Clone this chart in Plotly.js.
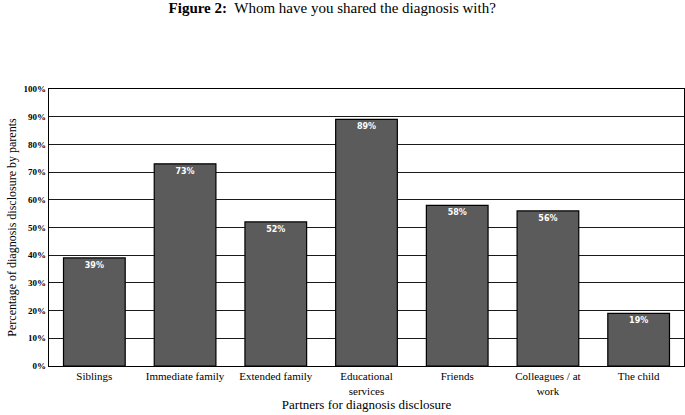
<!DOCTYPE html>
<html>
<head>
<meta charset="utf-8">
<script src="https://cdn.plot.ly/plotly-3.0.1.min.js"></script>
<style>
  html, body { margin: 0; padding: 0; background: #fff; }
  #chart { width: 685px; height: 415px; }
</style>
</head>
<body>
<div id="chart"></div>
<script>
const partners = ["Siblings", "Immediate family", "Extended family", "Educational<br>services", "Friends", "Colleagues / at<br>work", "The child"];
const shared = [39, 73, 52, 89, 58, 56, 19];
const yTicks = [0, 10, 20, 30, 40, 50, 60, 70, 80, 90, 100];
const yTickText = ["0%", "10%", "20%", "30%", "40%", "50%", "60%", "70%", "80%", "90%", "100%"];

const serif = "Liberation Serif, Times New Roman, serif";

const trace = {
	type: "bar",
	x: partners,
	y: shared,
	text: shared.map(v => v + "%"),
	textposition: "inside",
	insidetextanchor: "end",
	textangle: 0,
	textfont: { family: "DejaVu Sans, sans-serif", size: 8, color: "#ffffff", weight: "bold" },
	marker: { color: "#5b5b5b", line: { color: "#000000", width: 1.2 } },
	width: 0.68,
	hoverinfo: "none",
	cliponaxis: false
};

const layout = {
	width: 685,
	height: 415,
	margin: { l: 49, r: 1, t: 89, b: 49 },
	paper_bgcolor: "#ffffff",
	plot_bgcolor: "#ffffff",
	font: { family: serif, color: "#000000" },
	showlegend: false,
	title: {
		text: "<b>Figure 2:</b>  Whom have you shared the diagnosis with?",
		font: { family: serif, size: 15, color: "#000" },
		x: 0.485,
		xanchor: "center",
		y: 0.995,
		yanchor: "top"
	},
	xaxis: {
		type: "category",
		showgrid: false,
		showline: true,
		linecolor: "#000",
		linewidth: 1.2,
		mirror: true,
		ticks: "",
		tickfont: { family: serif, size: 11, color: "#000" },
		title: { text: "Partners for diagnosis disclosure", font: { family: serif, size: 13 }, standoff: 2 }
	},
	yaxis: {
		range: [0, 100],
		tickvals: yTicks,
		ticktext: yTickText,
		showgrid: true,
		gridcolor: "#1a1a1a",
		gridwidth: 1,
		showline: true,
		linecolor: "#000",
		linewidth: 1.2,
		mirror: true,
		zeroline: false,
		ticks: "",
		tickfont: { family: serif, size: 9, color: "#000", weight: "bold" },
		title: { text: "Percentage of diagnosis disclosure by parents", font: { family: serif, size: 12 }, standoff: 4 }
	}
};

Plotly.newPlot("chart", [trace], layout, { staticPlot: true, displayModeBar: false });
</script>
</body>
</html>
